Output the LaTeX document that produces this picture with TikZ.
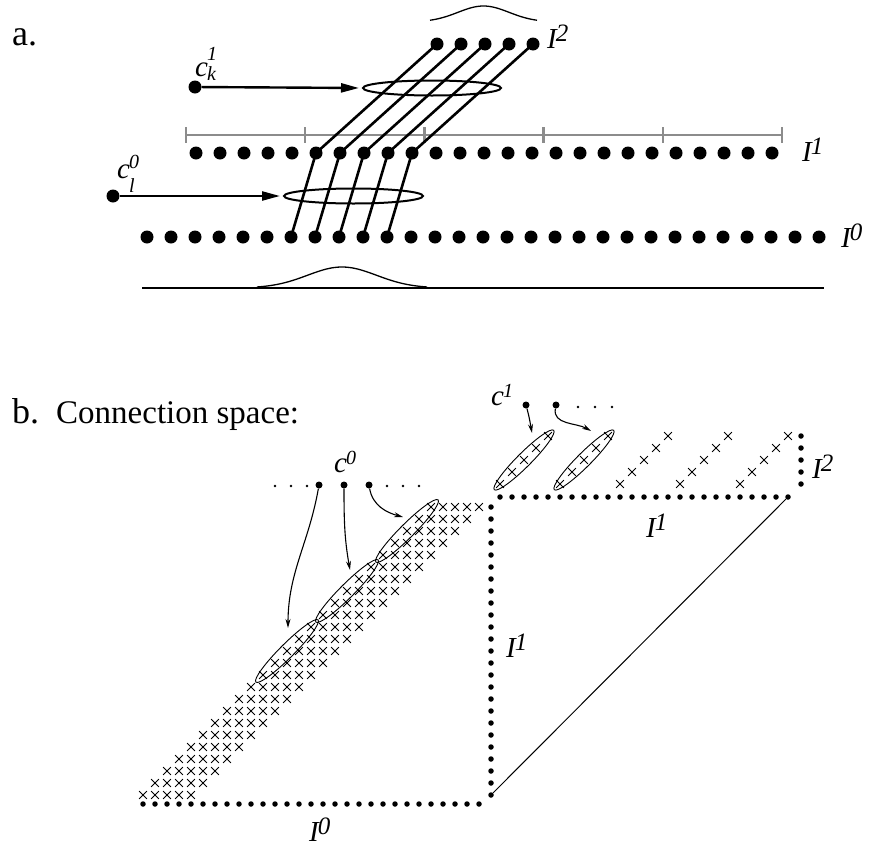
\documentclass[tikz,border=0pt]{standalone}
\usepackage{fontspec}
\setmainfont{Liberation Serif}
\usetikzlibrary{arrows.meta,shapes.geometric,shapes.misc}
\definecolor{bargray}{gray}{0.55}
\newcommand\cfnt{\fontsize{29}{32}\selectfont\itshape}
\newcommand\sfnt{\fontsize{20}{22}\selectfont\itshape}
\newcommand\Ifnt{\fontsize{29}{32}\selectfont\itshape}
\newcommand\Isfnt{\fontsize{25}{26}\selectfont\itshape}
\newcommand\Ilab[1]{{\Ifnt I}\kern-1pt\raisebox{7pt}{\Isfnt #1}}
\tikzset{
  bigdot/.style={circle,fill=black,inner sep=0pt,minimum size=13pt},
  smalldot/.style={circle,fill=black,inner sep=0pt,minimum size=5.5pt},
  tinydot/.style={circle,fill=black,inner sep=0pt,minimum size=2.6pt},
  cdot/.style={circle,fill=black,inner sep=0pt,minimum size=7pt},
  link/.style={line width=2.6pt},
  bigarrow/.style={line width=2.4pt,-{Triangle[length=18pt,width=9pt]},shorten >=3pt},
  ringA/.style={ellipse,draw,line width=2pt,inner sep=0pt},
  ringB/.style={ellipse,draw,line width=0.9pt,inner sep=0pt,rotate=45},
  xmark/.style={cross out,draw,line width=0.8pt,inner sep=0pt,minimum size=7pt},
  smallarrow/.style={line width=1.1pt,-{Stealth[length=9pt,width=5pt]}},
  scalebar/.style={draw=bargray,line width=2.4pt},
  thinline/.style={line width=1.3pt},
  lab/.style={anchor=base west,inner sep=0pt},
}
\begin{document}
\begin{tikzpicture}[x=1pt,y=1pt]
\useasboundingbox (0,0) rectangle (871,-849);

% ---------------- part a ----------------
\node[lab,font=\fontsize{36}{40}\selectfont] (la) at (12,-45) {a.};

% bump above I^2
\draw[thinline] plot[domain=430:537,samples=60] (\x,{-22+16*exp(-((\x-483.5)/36)*((\x-483.5)/36))});

% scale bar
\draw[scalebar] (186,-135) -- (782,-135);
\foreach \m in {0,...,5} \draw[scalebar] ({186+119.2*\m},-127) -- ++(0,-16);

% dots
\foreach \k in {0,...,4} \node[bigdot] (a2-\k) at ({437+24*\k},-44) {};
\foreach \k in {0,...,24} \node[bigdot] (a1-\k) at ({196+24*\k},-153) {};
\foreach \k in {0,...,28} \node[bigdot] (a0-\k) at ({147+24*\k},-237) {};

% links
\foreach \k in {0,...,4} {
  \pgfmathtruncatemacro\p{\k+5}
  \pgfmathtruncatemacro\q{\k+6}
  \draw[link] (a0-\q.center) -- (a1-\p.center);
  \draw[link] (a1-\p.center) -- (a2-\k.center);
}

% ellipses
\node[ringA,minimum width=138pt,minimum height=15pt] (ringtop) at (432,-88) {};
\node[ringA,minimum width=139pt,minimum height=15pt] (ringbot) at (353.5,-196) {};

% c-sources
\node[bigdot] (ck) at (195,-87) {};
\node[bigdot] (cl) at (113,-196) {};
\draw[bigarrow] (ck) -- (ringtop.west);
\draw[bigarrow] (cl) -- (ringbot.west);

\node[lab] (lck) at (195,-76) {\cfnt c\kern-1pt\rlap{\raisebox{16pt}{\sfnt 1}}\raisebox{-4pt}{\sfnt k}};
\node[lab] (lcl) at (117,-178) {\cfnt c\kern-1pt\rlap{\raisebox{10pt}{\sfnt 0}}\raisebox{-14pt}{\sfnt l}};

% labels
\node[lab] (lI2a) at (547,-48) {\Ilab{2}};
\node[lab] (lI1a) at (802,-161) {\Ilab{1}};
\node[lab] (lI0a) at (841,-247) {\Ilab{0}};

% baseline with bump
\draw[thinline] (142,-288) -- (824,-288);
\draw[thinline] plot[domain=257:427,samples=60] (\x,{-288+21*exp(-((\x-342)/48.8)*((\x-342)/48.8))});

% ---------------- part b ----------------
\node[lab,font=\fontsize{36}{40}\selectfont] (lb) at (12,-423) {b.};
\node[lab,font=\fontsize{33}{36}\selectfont] (lcs) at (56,-423) {Connection space:};

% dot rows / columns
\foreach \k in {0,...,28} \node[smalldot] (b0-\k) at ({143+12*\k},-804) {};
\foreach \i in {0,...,24} \node[smalldot] (bv-\i) at (491,{-795+12*\i}) {};
\foreach \j in {0,...,24} \node[smalldot] (bh-\j) at ({500+12*\j},-497) {};
\foreach \m in {0,...,4} \node[smalldot] (b2-\m) at (801,{-484+12*\m}) {};

% crosses
\foreach \i in {0,...,24} \foreach \k in {0,...,4}
  \node[xmark] (xl-\i-\k) at ({143+12*(\i+\k)},{-795+12*\i}) {};
\foreach \j in {0,...,24} {
  \pgfmathtruncatemacro\m{mod(\j,5)}
  \node[xmark] (xu-\j) at ({500+12*\j},{-484+12*\m}) {};
}

% ellipses
\node[ringB,minimum width=88pt,minimum height=14pt] (e1) at (287,-651) {};
\node[ringB,minimum width=88pt,minimum height=14pt] (e2) at (347,-591) {};
\node[ringB,minimum width=88pt,minimum height=14pt] (e3) at (407,-531) {};
\node[ringB,minimum width=84pt,minimum height=14pt] (f1) at (524,-460) {};
\node[ringB,minimum width=84pt,minimum height=14pt] (f2) at (584,-460) {};

% c^0 sources
\foreach \x [count=\n] in {275,291,307,387,403,419} \node[tinydot] (s0-\n) at (\x,-486) {};
\node[cdot] (c0a) at (319,-485) {};
\node[cdot] (c0b) at (344,-485) {};
\node[cdot] (c0c) at (369,-485) {};
\node[lab] (lc0) at (334,-472) {\cfnt c\kern-1pt\raisebox{8pt}{\sfnt 0}};

% c^1 sources
\foreach \x [count=\n] in {578,595,612} \node[tinydot] (s1-\n) at (\x,-407) {};
\node[cdot] (c1a) at (526,-405) {};
\node[cdot] (c1b) at (556,-405) {};
\node[lab] (lc1) at (491,-405) {\cfnt c\kern-1pt\raisebox{8pt}{\sfnt 1}};

% arrow targets
\coordinate (t1) at (288,-628);
\coordinate (t2) at (350,-570);
\coordinate (t3) at (403,-517);
\coordinate (t4) at (532,-433);
\coordinate (t5) at (591,-431);
\draw[smallarrow] (c0a) to[out=-100,in=90] (t1);
\draw[smallarrow] (c0b) to[out=-90,in=100] (t2);
\draw[smallarrow] (c0c) to[out=-80,in=165] (t3);
\draw[smallarrow] (c1a) to[out=-75,in=100] (t4);
\draw[smallarrow] (c1b) to[out=-100,in=150] (t5);

% diagonal
\draw[line width=1pt] (bv-0) -- (bh-24);

% labels
\node[lab] (lI2b) at (812,-478) {\Ilab{2}};
\node[lab] (lI1h) at (646,-537) {\Ilab{1}};
\node[lab] (lI1v) at (506,-657) {\Ilab{1}};
\node[lab] (lI0b) at (309,-841) {\Ilab{0}};
\end{tikzpicture}
\end{document}
